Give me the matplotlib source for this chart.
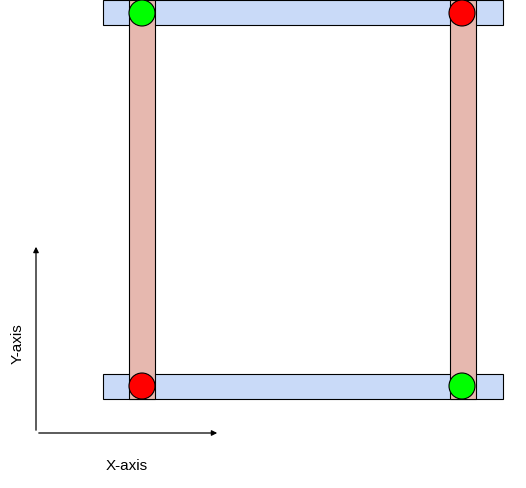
import matplotlib.pyplot as plt
from matplotlib.patches import Rectangle, Circle

# layout in pixel units (origin top-left)
blue_bars = [(103, 1, 400, 25), (103, 375, 400, 25)]      # x, y, w, h
pink_bars = [(129, 1, 26, 399), (450, 1, 26, 399)]
circle_x = [142, 462, 142, 462]
circle_y = [14, 14, 387, 387]
circle_c = ['#00ff00', '#ff0000', '#ff0000', '#00ff00']

fig = plt.figure(figsize=(5.26, 4.89), dpi=100)
ax = fig.add_axes([0, 0, 1, 1])
ax.set_xlim(0, 526)
ax.set_ylim(489, 0)
ax.axis('off')

for x, y, w, h in blue_bars:
    ax.add_patch(Rectangle((x, y), w, h, fc='#c9daf8', ec='black', lw=0.8, zorder=1))
for x, y, w, h in pink_bars:
    ax.add_patch(Rectangle((x, y), w, h, fc='#e6b8af', ec='black', lw=0.8, zorder=2))
for x, y, c in zip(circle_x, circle_y, circle_c):
    ax.add_patch(Circle((x, y), 13, fc=c, ec='black', lw=0.8, zorder=3))

ax.annotate('', xy=(36, 245), xytext=(36, 434),
            arrowprops=dict(arrowstyle='-|>', color='black', lw=0.9, mutation_scale=8))
ax.annotate('', xy=(220, 434), xytext=(36, 434),
            arrowprops=dict(arrowstyle='-|>', color='black', lw=0.9, mutation_scale=8))
ax.text(18, 344, 'Y-axis', rotation=90, ha='center', va='center', fontsize=11,
        family='Liberation Sans')
ax.text(127, 466, 'X-axis', ha='center', va='center', fontsize=11, family='Liberation Sans')

fig.savefig('out.png', dpi=100)
